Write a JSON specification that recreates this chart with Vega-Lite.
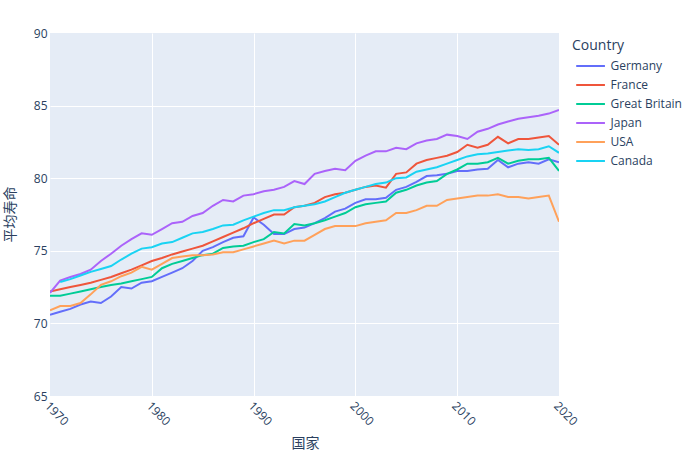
{
  "$schema": "https://vega.github.io/schema/vega-lite/v6.json",
  "autosize": {"type": "none"},
  "width": 509,
  "height": 363,
  "padding": {"left": 50, "top": 33, "right": 130, "bottom": 59},
  "background": "white",
  "config": {
    "view": {"stroke": null, "fill": "#E5ECF6"},
    "font": "Open Sans",
    "axis": {"domain": false, "ticks": false, "gridColor": "white", "gridWidth": 1, "labelColor": "#2a3f5f", "labelFontSize": 12, "titleColor": "#2a3f5f", "titleFontSize": 14, "titleFontWeight": "normal", "labelFont": "Open Sans", "titleFont": "Noto Sans CJK SC"}
  },
  "data": {"values": [
    {"year":1970,"country":"Germany","value":70.6},{"year":1971,"country":"Germany","value":70.8},{"year":1972,"country":"Germany","value":71.0},{"year":1973,"country":"Germany","value":71.3},{"year":1974,"country":"Germany","value":71.5},{"year":1975,"country":"Germany","value":71.4},{"year":1976,"country":"Germany","value":71.85},{"year":1977,"country":"Germany","value":72.5},{"year":1978,"country":"Germany","value":72.4},{"year":1979,"country":"Germany","value":72.8},{"year":1980,"country":"Germany","value":72.9},{"year":1981,"country":"Germany","value":73.2},{"year":1982,"country":"Germany","value":73.5},{"year":1983,"country":"Germany","value":73.8},{"year":1984,"country":"Germany","value":74.3},{"year":1985,"country":"Germany","value":75.0},{"year":1986,"country":"Germany","value":75.25},{"year":1987,"country":"Germany","value":75.6},{"year":1988,"country":"Germany","value":75.9},{"year":1989,"country":"Germany","value":76.0},{"year":1990,"country":"Germany","value":77.3},{"year":1991,"country":"Germany","value":76.8},{"year":1992,"country":"Germany","value":76.15},{"year":1993,"country":"Germany","value":76.15},{"year":1994,"country":"Germany","value":76.5},{"year":1995,"country":"Germany","value":76.6},{"year":1996,"country":"Germany","value":76.9},{"year":1997,"country":"Germany","value":77.25},{"year":1998,"country":"Germany","value":77.7},{"year":1999,"country":"Germany","value":77.9},{"year":2000,"country":"Germany","value":78.3},{"year":2001,"country":"Germany","value":78.55},{"year":2002,"country":"Germany","value":78.55},{"year":2003,"country":"Germany","value":78.65},{"year":2004,"country":"Germany","value":79.2},{"year":2005,"country":"Germany","value":79.4},{"year":2006,"country":"Germany","value":79.75},{"year":2007,"country":"Germany","value":80.15},{"year":2008,"country":"Germany","value":80.2},{"year":2009,"country":"Germany","value":80.3},{"year":2010,"country":"Germany","value":80.5},{"year":2011,"country":"Germany","value":80.5},{"year":2012,"country":"Germany","value":80.6},{"year":2013,"country":"Germany","value":80.65},{"year":2014,"country":"Germany","value":81.25},{"year":2015,"country":"Germany","value":80.75},{"year":2016,"country":"Germany","value":81.0},{"year":2017,"country":"Germany","value":81.1},{"year":2018,"country":"Germany","value":81.0},{"year":2019,"country":"Germany","value":81.3},{"year":2020,"country":"Germany","value":81.1},
    {"year":1970,"country":"France","value":72.2},{"year":1971,"country":"France","value":72.35},{"year":1972,"country":"France","value":72.5},{"year":1973,"country":"France","value":72.65},{"year":1974,"country":"France","value":72.8},{"year":1975,"country":"France","value":73.0},{"year":1976,"country":"France","value":73.2},{"year":1977,"country":"France","value":73.45},{"year":1978,"country":"France","value":73.7},{"year":1979,"country":"France","value":74.0},{"year":1980,"country":"France","value":74.3},{"year":1981,"country":"France","value":74.5},{"year":1982,"country":"France","value":74.75},{"year":1983,"country":"France","value":74.95},{"year":1984,"country":"France","value":75.15},{"year":1985,"country":"France","value":75.35},{"year":1986,"country":"France","value":75.65},{"year":1987,"country":"France","value":75.95},{"year":1988,"country":"France","value":76.25},{"year":1989,"country":"France","value":76.55},{"year":1990,"country":"France","value":76.9},{"year":1991,"country":"France","value":77.2},{"year":1992,"country":"France","value":77.5},{"year":1993,"country":"France","value":77.5},{"year":1994,"country":"France","value":78.0},{"year":1995,"country":"France","value":78.1},{"year":1996,"country":"France","value":78.3},{"year":1997,"country":"France","value":78.7},{"year":1998,"country":"France","value":78.9},{"year":1999,"country":"France","value":79.0},{"year":2000,"country":"France","value":79.2},{"year":2001,"country":"France","value":79.4},{"year":2002,"country":"France","value":79.5},{"year":2003,"country":"France","value":79.35},{"year":2004,"country":"France","value":80.3},{"year":2005,"country":"France","value":80.4},{"year":2006,"country":"France","value":81.0},{"year":2007,"country":"France","value":81.25},{"year":2008,"country":"France","value":81.4},{"year":2009,"country":"France","value":81.55},{"year":2010,"country":"France","value":81.8},{"year":2011,"country":"France","value":82.3},{"year":2012,"country":"France","value":82.1},{"year":2013,"country":"France","value":82.3},{"year":2014,"country":"France","value":82.85},{"year":2015,"country":"France","value":82.4},{"year":2016,"country":"France","value":82.7},{"year":2017,"country":"France","value":82.7},{"year":2018,"country":"France","value":82.8},{"year":2019,"country":"France","value":82.9},{"year":2020,"country":"France","value":82.3},
    {"year":1970,"country":"Great Britain","value":71.9},{"year":1971,"country":"Great Britain","value":71.9},{"year":1972,"country":"Great Britain","value":72.05},{"year":1973,"country":"Great Britain","value":72.2},{"year":1974,"country":"Great Britain","value":72.35},{"year":1975,"country":"Great Britain","value":72.5},{"year":1976,"country":"Great Britain","value":72.65},{"year":1977,"country":"Great Britain","value":72.75},{"year":1978,"country":"Great Britain","value":72.9},{"year":1979,"country":"Great Britain","value":73.05},{"year":1980,"country":"Great Britain","value":73.2},{"year":1981,"country":"Great Britain","value":73.8},{"year":1982,"country":"Great Britain","value":74.1},{"year":1983,"country":"Great Britain","value":74.3},{"year":1984,"country":"Great Britain","value":74.5},{"year":1985,"country":"Great Britain","value":74.7},{"year":1986,"country":"Great Britain","value":74.8},{"year":1987,"country":"Great Britain","value":75.2},{"year":1988,"country":"Great Britain","value":75.3},{"year":1989,"country":"Great Britain","value":75.35},{"year":1990,"country":"Great Britain","value":75.6},{"year":1991,"country":"Great Britain","value":75.8},{"year":1992,"country":"Great Britain","value":76.3},{"year":1993,"country":"Great Britain","value":76.2},{"year":1994,"country":"Great Britain","value":76.85},{"year":1995,"country":"Great Britain","value":76.75},{"year":1996,"country":"Great Britain","value":76.9},{"year":1997,"country":"Great Britain","value":77.1},{"year":1998,"country":"Great Britain","value":77.35},{"year":1999,"country":"Great Britain","value":77.6},{"year":2000,"country":"Great Britain","value":78.0},{"year":2001,"country":"Great Britain","value":78.2},{"year":2002,"country":"Great Britain","value":78.3},{"year":2003,"country":"Great Britain","value":78.4},{"year":2004,"country":"Great Britain","value":79.0},{"year":2005,"country":"Great Britain","value":79.2},{"year":2006,"country":"Great Britain","value":79.5},{"year":2007,"country":"Great Britain","value":79.7},{"year":2008,"country":"Great Britain","value":79.8},{"year":2009,"country":"Great Britain","value":80.3},{"year":2010,"country":"Great Britain","value":80.6},{"year":2011,"country":"Great Britain","value":81.0},{"year":2012,"country":"Great Britain","value":81.0},{"year":2013,"country":"Great Britain","value":81.1},{"year":2014,"country":"Great Britain","value":81.4},{"year":2015,"country":"Great Britain","value":81.0},{"year":2016,"country":"Great Britain","value":81.2},{"year":2017,"country":"Great Britain","value":81.3},{"year":2018,"country":"Great Britain","value":81.3},{"year":2019,"country":"Great Britain","value":81.4},{"year":2020,"country":"Great Britain","value":80.5},
    {"year":1970,"country":"Japan","value":72.1},{"year":1971,"country":"Japan","value":72.95},{"year":1972,"country":"Japan","value":73.2},{"year":1973,"country":"Japan","value":73.4},{"year":1974,"country":"Japan","value":73.7},{"year":1975,"country":"Japan","value":74.3},{"year":1976,"country":"Japan","value":74.8},{"year":1977,"country":"Japan","value":75.35},{"year":1978,"country":"Japan","value":75.8},{"year":1979,"country":"Japan","value":76.2},{"year":1980,"country":"Japan","value":76.1},{"year":1981,"country":"Japan","value":76.5},{"year":1982,"country":"Japan","value":76.9},{"year":1983,"country":"Japan","value":77.0},{"year":1984,"country":"Japan","value":77.4},{"year":1985,"country":"Japan","value":77.6},{"year":1986,"country":"Japan","value":78.1},{"year":1987,"country":"Japan","value":78.5},{"year":1988,"country":"Japan","value":78.4},{"year":1989,"country":"Japan","value":78.8},{"year":1990,"country":"Japan","value":78.9},{"year":1991,"country":"Japan","value":79.1},{"year":1992,"country":"Japan","value":79.2},{"year":1993,"country":"Japan","value":79.4},{"year":1994,"country":"Japan","value":79.8},{"year":1995,"country":"Japan","value":79.6},{"year":1996,"country":"Japan","value":80.3},{"year":1997,"country":"Japan","value":80.5},{"year":1998,"country":"Japan","value":80.65},{"year":1999,"country":"Japan","value":80.55},{"year":2000,"country":"Japan","value":81.2},{"year":2001,"country":"Japan","value":81.55},{"year":2002,"country":"Japan","value":81.85},{"year":2003,"country":"Japan","value":81.85},{"year":2004,"country":"Japan","value":82.1},{"year":2005,"country":"Japan","value":82.0},{"year":2006,"country":"Japan","value":82.4},{"year":2007,"country":"Japan","value":82.6},{"year":2008,"country":"Japan","value":82.7},{"year":2009,"country":"Japan","value":83.0},{"year":2010,"country":"Japan","value":82.9},{"year":2011,"country":"Japan","value":82.7},{"year":2012,"country":"Japan","value":83.2},{"year":2013,"country":"Japan","value":83.4},{"year":2014,"country":"Japan","value":83.7},{"year":2015,"country":"Japan","value":83.9},{"year":2016,"country":"Japan","value":84.1},{"year":2017,"country":"Japan","value":84.2},{"year":2018,"country":"Japan","value":84.3},{"year":2019,"country":"Japan","value":84.45},{"year":2020,"country":"Japan","value":84.7},
    {"year":1970,"country":"USA","value":70.9},{"year":1971,"country":"USA","value":71.2},{"year":1972,"country":"USA","value":71.2},{"year":1973,"country":"USA","value":71.4},{"year":1974,"country":"USA","value":72.0},{"year":1975,"country":"USA","value":72.65},{"year":1976,"country":"USA","value":72.9},{"year":1977,"country":"USA","value":73.25},{"year":1978,"country":"USA","value":73.5},{"year":1979,"country":"USA","value":73.9},{"year":1980,"country":"USA","value":73.7},{"year":1981,"country":"USA","value":74.1},{"year":1982,"country":"USA","value":74.5},{"year":1983,"country":"USA","value":74.6},{"year":1984,"country":"USA","value":74.7},{"year":1985,"country":"USA","value":74.7},{"year":1986,"country":"USA","value":74.75},{"year":1987,"country":"USA","value":74.9},{"year":1988,"country":"USA","value":74.9},{"year":1989,"country":"USA","value":75.1},{"year":1990,"country":"USA","value":75.3},{"year":1991,"country":"USA","value":75.5},{"year":1992,"country":"USA","value":75.7},{"year":1993,"country":"USA","value":75.5},{"year":1994,"country":"USA","value":75.7},{"year":1995,"country":"USA","value":75.7},{"year":1996,"country":"USA","value":76.1},{"year":1997,"country":"USA","value":76.5},{"year":1998,"country":"USA","value":76.7},{"year":1999,"country":"USA","value":76.7},{"year":2000,"country":"USA","value":76.7},{"year":2001,"country":"USA","value":76.9},{"year":2002,"country":"USA","value":77.0},{"year":2003,"country":"USA","value":77.1},{"year":2004,"country":"USA","value":77.6},{"year":2005,"country":"USA","value":77.6},{"year":2006,"country":"USA","value":77.8},{"year":2007,"country":"USA","value":78.1},{"year":2008,"country":"USA","value":78.1},{"year":2009,"country":"USA","value":78.5},{"year":2010,"country":"USA","value":78.6},{"year":2011,"country":"USA","value":78.7},{"year":2012,"country":"USA","value":78.8},{"year":2013,"country":"USA","value":78.8},{"year":2014,"country":"USA","value":78.9},{"year":2015,"country":"USA","value":78.7},{"year":2016,"country":"USA","value":78.7},{"year":2017,"country":"USA","value":78.6},{"year":2018,"country":"USA","value":78.7},{"year":2019,"country":"USA","value":78.8},{"year":2020,"country":"USA","value":77.0},
    {"year":1971,"country":"Canada","value":72.85},{"year":1972,"country":"Canada","value":73.05},{"year":1973,"country":"Canada","value":73.3},{"year":1974,"country":"Canada","value":73.55},{"year":1975,"country":"Canada","value":73.75},{"year":1976,"country":"Canada","value":73.95},{"year":1977,"country":"Canada","value":74.4},{"year":1978,"country":"Canada","value":74.8},{"year":1979,"country":"Canada","value":75.15},{"year":1980,"country":"Canada","value":75.25},{"year":1981,"country":"Canada","value":75.5},{"year":1982,"country":"Canada","value":75.6},{"year":1983,"country":"Canada","value":75.9},{"year":1984,"country":"Canada","value":76.2},{"year":1985,"country":"Canada","value":76.3},{"year":1986,"country":"Canada","value":76.5},{"year":1987,"country":"Canada","value":76.75},{"year":1988,"country":"Canada","value":76.8},{"year":1989,"country":"Canada","value":77.1},{"year":1990,"country":"Canada","value":77.35},{"year":1991,"country":"Canada","value":77.6},{"year":1992,"country":"Canada","value":77.8},{"year":1993,"country":"Canada","value":77.8},{"year":1994,"country":"Canada","value":78.0},{"year":1995,"country":"Canada","value":78.1},{"year":1996,"country":"Canada","value":78.2},{"year":1997,"country":"Canada","value":78.4},{"year":1998,"country":"Canada","value":78.7},{"year":1999,"country":"Canada","value":79.0},{"year":2000,"country":"Canada","value":79.2},{"year":2001,"country":"Canada","value":79.4},{"year":2002,"country":"Canada","value":79.6},{"year":2003,"country":"Canada","value":79.7},{"year":2004,"country":"Canada","value":80.0},{"year":2005,"country":"Canada","value":80.05},{"year":2006,"country":"Canada","value":80.45},{"year":2007,"country":"Canada","value":80.6},{"year":2008,"country":"Canada","value":80.75},{"year":2009,"country":"Canada","value":81.0},{"year":2010,"country":"Canada","value":81.25},{"year":2011,"country":"Canada","value":81.5},{"year":2012,"country":"Canada","value":81.65},{"year":2013,"country":"Canada","value":81.7},{"year":2014,"country":"Canada","value":81.8},{"year":2015,"country":"Canada","value":81.9},{"year":2016,"country":"Canada","value":82.0},{"year":2017,"country":"Canada","value":81.95},{"year":2018,"country":"Canada","value":82.0},{"year":2019,"country":"Canada","value":82.2},{"year":2020,"country":"Canada","value":81.75}
  ]},
  "mark": {"type": "line", "strokeWidth": 2, "clip": true},
  "encoding": {
    "x": {
      "field": "year", "type": "quantitative",
      "scale": {"domain": [1970, 2020], "nice": false, "zero": false},
      "axis": {
        "values": [1970, 1980, 1990, 2000, 2010, 2020], "format": "d",
        "labelAngle": 45, "labelAlign": "left", "labelBaseline": "top", "labelPadding": 4, "labelFlush": false, "labelOverlap": false,
        "title": "国家", "titleX": 255, "titleY": 47, "titleBaseline": "middle", "titleAlign": "center",
        "gridOpacity": {"condition": {"test": "datum.value == 1970 || datum.value == 2020", "value": 0}, "value": 1}
      }
    },
    "y": {
      "field": "value", "type": "quantitative",
      "scale": {"domain": [65, 90], "nice": false, "zero": false},
      "axis": {
        "values": [65, 70, 75, 80, 85, 90], "labelPadding": 3, "labelFlush": false,
        "title": "平均寿命", "titleX": -40, "titleY": 181, "titleAngle": -90, "titleAlign": "center", "titleBaseline": "middle",
        "gridOpacity": {"condition": {"test": "datum.value == 65 || datum.value == 90", "value": 0}, "value": 1}
      }
    },
    "color": {
      "field": "country", "type": "nominal",
      "scale": {"domain": ["Germany", "France", "Great Britain", "Japan", "USA", "Canada"], "range": ["#636efa", "#EF553B", "#00cc96", "#ab63fa", "#FFA15A", "#19d3f3"]},
      "legend": {
        "title": "Country", "orient": "none", "legendX": 522, "legendY": 6,
        "titleFontSize": 14, "titleFontWeight": "normal", "titleColor": "#2a3f5f", "titleFont": "Open Sans", "titlePadding": 0,
        "labelFontSize": 12, "labelColor": "#2a3f5f", "labelFont": "Open Sans", "labelOffset": 12.5,
        "symbolType": "M-0.75,0H1.7", "symbolSize": 550, "symbolStrokeWidth": 2, "rowPadding": 0, "offset": 0, "padding": 0
      }
    }
  }
}
